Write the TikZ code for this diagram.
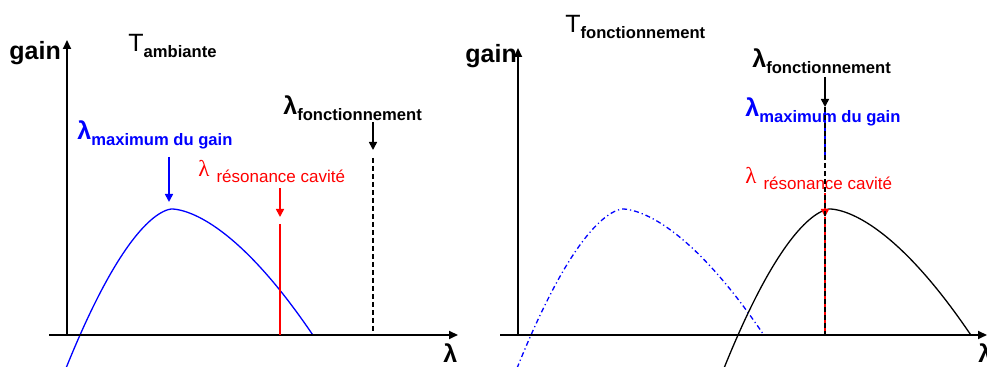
\documentclass[tikz,border=0pt]{standalone}
\usepackage{fontspec}
\setmainfont{Liberation Sans}
\newfontfamily\serifgr{Liberation Serif}
\usetikzlibrary{arrows.meta}

\newcommand{\gros}{\fontsize{12.5}{14}\selectfont}
\newcommand{\indice}[1]{\raisebox{-3pt}{\fontsize{8.3}{9}\selectfont\bfseries #1}}
\newcommand{\lamres}{{\serifgr\fontsize{11.5}{12}\selectfont λ}\hspace{3.5pt}\raisebox{-3pt}{\fontsize{8.5}{9}\selectfont résonance cavité}}

\tikzset{
  axe/.style={line width=1pt,-{Triangle[length=4.5pt,width=4pt]}},
  fleche/.style={line width=0.8pt,-{Triangle[length=4pt,width=4pt]}},
  etiq/.style={anchor=base west,inner sep=0pt},
  repere/.style={line width=0.7pt,dash pattern=on 2.5pt off 1.5pt},
  courbeA/.style={line width=0.65pt,blue},
  courbeB/.style={line width=0.65pt,blue,dash pattern=on 2.5pt off 1.5pt on 0.6pt off 1.5pt},
  courbeC/.style={line width=0.65pt,black},
}

\begin{document}
\begin{tikzpicture}[x=0.5pt,y=-0.5pt]
\useasboundingbox (0,0) rectangle (987,367);

% Courbes de gain (meme forme, decalee)
\foreach \dx/\st in {172/courbeA,623/courbeB,830/courbeC}
  \draw[\st,shift={(\dx,0)}] plot[domain=-106:141,samples=100,smooth]
    (\x,{209+((\x<0)*0.0725+(\x>=0)*0.0359)*pow(abs(\x),1.65)});

% Repere gauche : T ambiante
\coordinate (xg0) at (49,335); \coordinate (xg1) at (458,335);
\coordinate (yg0) at (67,335); \coordinate (yg1) at (67,40);
\draw[axe] (xg0) -- (xg1);
\draw[axe] (yg0) -- (yg1);
\node[etiq,font=\gros\bfseries] (gaing) at (9,60) {gain};
\node[etiq,font=\gros] (tamb) at (128,52) {T\indice{ambiante}};
\node[etiq,font=\gros\bfseries] (lamg) at (443,363) {λ};

\node[etiq,font=\gros\bfseries] (lfg) at (283,115) {λ\indice{fonctionnement}};
\node[etiq,font=\gros\bfseries,text=blue] (lmg) at (77,140) {λ\indice{maximum du gain}};
\node[etiq,text=red] (lrg) at (198,177) {\lamres};

\coordinate (fg1) at (373,122); \coordinate (fg2) at (373,150);
\coordinate (fg3) at (373,158); \coordinate (fg4) at (373,335);
\draw[fleche] (fg1) -- (fg2);
\draw[repere] (fg3) -- (fg4);
\coordinate (mg1) at (169,157); \coordinate (mg2) at (169,202);
\draw[fleche,blue] (mg1) -- (mg2);
\coordinate (rg1) at (280,188); \coordinate (rg2) at (280,217);
\coordinate (rg3) at (280,224); \coordinate (rg4) at (280,335);
\draw[fleche,red] (rg1) -- (rg2);
\draw[red,line width=1pt] (rg3) -- (rg4);

% Repere droit : T fonctionnement
\coordinate (xd0) at (500,335); \coordinate (xd1) at (987,335);
\coordinate (yd0) at (518,335); \coordinate (yd1) at (518,48);
\draw[axe] (xd0) -- (xd1);
\draw[axe] (yd0) -- (yd1);
\node[etiq,font=\gros\bfseries] (gaind) at (465,63) {gain};
\node[etiq,font=\gros] (tfct) at (565,33) {T\indice{fonctionnement}};
\node[etiq,font=\gros\bfseries] (lamd) at (978,363) {λ};

\node[etiq,font=\gros\bfseries] (lfd) at (752,68) {λ\indice{fonctionnement}};
\node[etiq,font=\gros\bfseries,text=blue] (lmd) at (745,117) {λ\indice{maximum du gain}};
\node[etiq,text=red] (lrd) at (745,184) {\lamres};

\coordinate (fd1) at (825,77); \coordinate (fd2) at (825,107);
\coordinate (md2) at (825,155);
\coordinate (rd1) at (825,193); \coordinate (rd2) at (825,217);
\coordinate (fd4) at (825,335);
\draw[fleche] (fd1) -- (fd2);
\draw[blue,line width=1pt] (fd2) -- (md2);
\draw[fleche,red] (rd1) -- (rd2);
\draw[red,line width=1pt] (rd2) -- (fd4);
\draw[repere] (fd2) -- (fd4);
\end{tikzpicture}
\end{document}
